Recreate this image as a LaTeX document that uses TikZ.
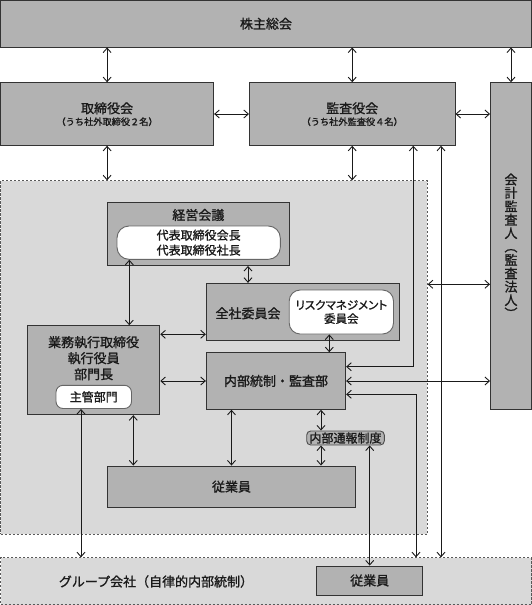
\documentclass[tikz,border=0pt]{standalone}
\usepackage{fontspec}
\setmainfont{Noto Sans CJK JP}[FakeBold=1.2]
\newfontfamily\paltfont{Noto Sans CJK JP}[FakeBold=1.2,RawFeature=+palt]
\usetikzlibrary{arrows.meta,calc}
\definecolor{boxgray}{HTML}{B2B2B2}
\definecolor{regiongray}{HTML}{D9D9D9}
\definecolor{edge}{HTML}{333333}
\definecolor{ink}{HTML}{1A1A1A}
\tikzset{
  box/.style={draw=edge, fill=boxgray, line width=0.9pt, inner sep=0pt, text=ink, align=center, font=\fontsize{13}{16}\selectfont},
  region/.style={draw=black!65, fill=regiongray, dash pattern=on 2.2pt off 1.8pt, line width=0.7pt, inner sep=0pt},
  pill/.style={draw=black!60, fill=white, line width=0.9pt, inner sep=0pt, text=ink, align=center},
  txt/.style={text=ink, inner sep=0pt, align=center, font=\fontsize{13}{16}\selectfont},
  subtxt/.style={text=ink, inner sep=0pt, font=\fontsize{9.2}{11}\selectfont},
  link/.style={draw=ink, line width=0.9pt, >={Straight Barb[length=4.5pt,width=8pt]}, <->},
}
\begin{document}
\begin{tikzpicture}[x=1pt,y=-1pt]
\useasboundingbox[fill=white] (0,0) rectangle (532,605);

% regions
\node[region, minimum width=426.8pt, minimum height=353.6pt] (region) at (213.9,357.5) {};
\node[region, minimum width=531pt, minimum height=46.8pt] (group) at (266,581.1) {};
\node[txt] (groupT) at (156,581.5) {グループ会社（自律的内部統制）};

% top boxes
\node[box, minimum width=531pt, minimum height=46.5pt] (sh) at (266,23.75) {株主総会};
\node[box, minimum width=213.2pt, minimum height=62.6pt] (board) at (107.1,114) {};
\node[txt] (boardT) at (107.1,108.3) {取締役会};
\node[subtxt] (boardS) at (107.1,121.7) {（うち社外取締役２名）};
\node[box, minimum width=205.6pt, minimum height=62.6pt] (kansa) at (352.2,114) {};
\node[txt] (kansaT) at (352.2,108.3) {監査役会};
\node[subtxt] (kansaS) at (352.2,121.7) {（うち社外監査役４名）};
\node[box, minimum width=41pt, minimum height=326.6pt, font=\fontsize{13}{13.4}\selectfont] (auditor) at (511,246)
  {会\\計\\監\\査\\人\\︵\\監\\査\\法\\人\\︶};

% inner boxes
\node[box, minimum width=182.1pt, minimum height=63.2pt] (keiei) at (198.35,233.9) {};
\node[txt] (keieiT) at (198.35,215) {経営会議};
\node[pill, rounded corners=12pt, minimum width=163.3pt, minimum height=33.3pt, font=\fontsize{12}{15}\selectfont] (keieiIn) at (198.65,242.65)
  {代表取締役会長\\代表取締役社長};

\node[box, minimum width=193.1pt, minimum height=56.9pt] (zensha) at (302.85,311.75) {};
\node[txt] (zenshaT) at (248,313.3) {全社委員会};
\node[pill, rounded corners=11pt, minimum width=104.3pt, minimum height=44pt, font=\fontsize{11.5}{13.6}\selectfont] (risk) at (341.35,312)
  {{\paltfont リスクマネジメント}\\委員会};

\node[box, minimum width=132.4pt, minimum height=89pt] (gyomu) at (93.6,370.2) {};
\node[txt] (gyomuT) at (93.6,358.2) {業務執行取締役\\執行役員\\部門長};
\node[pill, rounded corners=7pt, minimum width=75.5pt, minimum height=23.2pt, font=\fontsize{12}{14}\selectfont] (shukan) at (93.75,396.9) {主管部門};

\node[box, minimum width=139.4pt, minimum height=56.6pt] (naibu) at (276,381) {内部統制・監査部};
\node[box, rounded corners=4pt, draw=black!70, minimum width=77.6pt, minimum height=14pt, font=\fontsize{12}{13}\selectfont] (tsuho) at (345.5,438) {内部通報制度};
\node[box, minimum width=248.4pt, minimum height=41.3pt] (jugyo) at (231.5,486.65) {従業員};
\node[box, minimum width=106pt, minimum height=29pt] (gjugyo) at (369.7,580.5) {従業員};

% helper coordinates
\coordinate (xA) at (413.3,0);
\coordinate (xB) at (441,0);
\coordinate (xC) at (416,0);
\coordinate (xD) at (129.3,0);
\coordinate (xF) at (329.3,0);
\coordinate (xG) at (133.3,0);
\coordinate (xH) at (321,0);
\coordinate (xI) at (81,0);
\coordinate (yR) at (0,284.3);
\coordinate (yE) at (0,334.3);
\coordinate (yK) at (0,366.7);
\coordinate (yL) at (0,394.3);

% connectors
\draw[link] (sh.south -| board.north) -- (board.north);
\draw[link] (sh.south -| kansa.north) -- (kansa.north);
\draw[link] (sh.south -| auditor.north) -- (auditor.north);
\draw[link] (board.east) -- (kansa.west);
\draw[link] (kansa.east) -- (kansa.east -| auditor.west);
\draw[link] (board.south) -- (board.south |- region.north);
\draw[link] (kansa.south) -- (kansa.south |- region.north);
\draw[link] (kansa.south -| xA) -- (xA |- yK) -- (naibu.east |- yK);
\draw[link] (kansa.south -| xB) -- (xB |- group.north);
\draw[link] (naibu.east |- yL) -- (xC |- yL) -- (xC |- group.north);
\draw[link] (region.east |- yR) -- (auditor.west |- yR);
\draw[link] (naibu.east) -- (naibu.east -| auditor.west);
\draw[link] (keiei.south -| zenshaT) -- (zensha.north -| zenshaT);
\draw[link] (keieiIn.south -| xD) -- (gyomu.north -| xD);
\draw[link] (gyomu.east |- yE) -- (zensha.west |- yE);
\draw[link] (gyomu.east |- naibu.west) -- (naibu.west);
\draw[link] (risk.south -| xF) -- (naibu.north -| xF);
\draw[link] (gyomu.south -| xG) -- (jugyo.north -| xG);
\draw[link] (naibu.south -| jugyo.north) -- (jugyo.north);
\draw[link] (naibu.south -| xH) -- (tsuho.north -| xH);
\draw[link] (tsuho.south -| xH) -- (jugyo.north -| xH);
\draw[link] (tsuho.south -| gjugyo.north) -- (gjugyo.north);
\draw[link] (shukan.south -| xI) -- (group.north -| xI);
\end{tikzpicture}
\end{document}
